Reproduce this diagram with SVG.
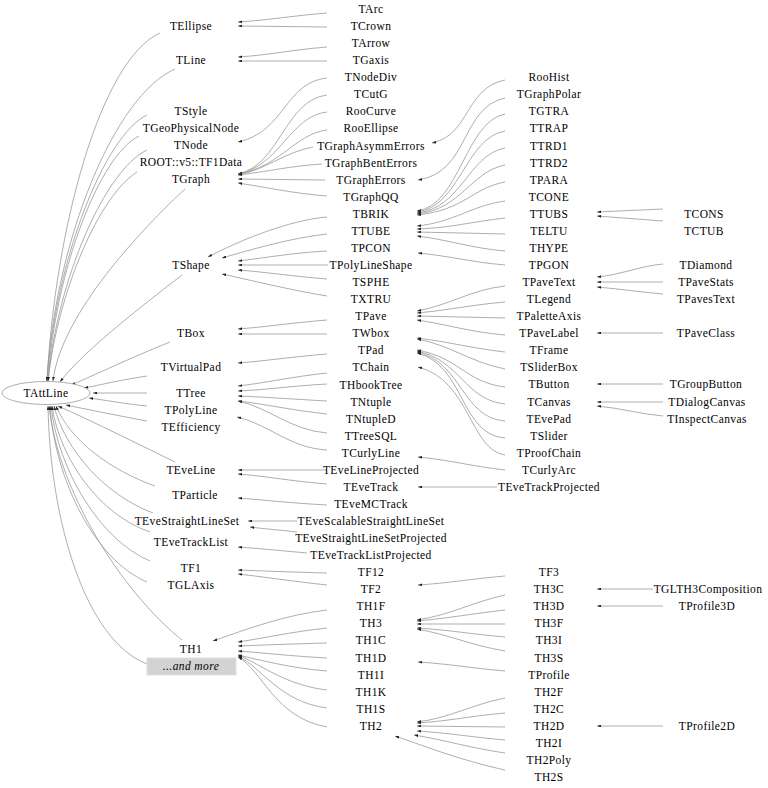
<svg xmlns="http://www.w3.org/2000/svg" width="768" height="788" viewBox="0 0 768 788">
<style>
text{font-family:"Liberation Serif","Times New Roman",serif;font-size:11.5px;letter-spacing:0.4px;text-anchor:middle;fill:#000}
.e path{fill:none;stroke:#999;stroke-width:0.8;marker-end:url(#a)}
.more{fill:#d3d3d3;stroke:#e0e0e0}
.it{font-style:italic}
</style>
<defs>
<marker id="a" viewBox="0 0 6 4" refX="6" refY="2" markerWidth="4.5" markerHeight="2.8" orient="auto" markerUnits="userSpaceOnUse"><path d="M0,0 L6,2 L0,4z" fill="#222"/></marker>
</defs>
<rect width="768" height="788" fill="#fff"/>
<g class="e" id="edges">
<path d="M327,13 C290,16 270,20 238,22"/>
<path d="M327,27 L238,26"/>
<path d="M327,47 C290,50 270,55 238,57"/>
<path d="M327,61 L238,61"/>
<path d="M327,78 C285,82 285,132 238,142"/>
<path d="M327,95 C285,100 280,165 238,174"/>
<path d="M327,112 C290,116 280,166 238,174"/>
<path d="M327,130 C295,134 280,167 238,174"/>
<path d="M313,147 C285,152 265,170 238,175"/>
<path d="M322,164 C290,166 265,172 238,175"/>
<path d="M325,180 L238,179"/>
<path d="M327,196 C290,193 265,187 238,183"/>
<path d="M505,80 C465,88 470,135 432,143"/>
<path d="M505,98 C460,108 470,172 418,180"/>
<path d="M505,114 C465,122 460,205 417,211"/>
<path d="M505,131 C465,138 460,207 417,212"/>
<path d="M505,148 C468,155 462,208 417,213"/>
<path d="M505,165 C470,172 462,209 417,214"/>
<path d="M505,182 C472,188 465,210 417,215"/>
<path d="M505,201 C470,206 455,222 417,226"/>
<path d="M505,218 C470,222 450,228 417,229"/>
<path d="M505,234 L417,232"/>
<path d="M505,251 C470,248 450,240 417,236"/>
<path d="M505,265 C470,262 450,256 418,253"/>
<path d="M663,209 L597,212"/>
<path d="M663,221 L597,216"/>
<path d="M327,217 C290,220 240,240 208,257"/>
<path d="M327,234 C290,238 250,250 222,258"/>
<path d="M327,251 C290,253 265,258 238,261"/>
<path d="M328,265 L238,265"/>
<path d="M327,279 C290,276 265,272 238,270"/>
<path d="M327,296 C290,290 250,280 222,274"/>
<path d="M327,320 C290,323 265,327 238,329"/>
<path d="M327,334 L238,334"/>
<path d="M505,286 C470,290 450,305 417,311"/>
<path d="M505,302 C470,305 450,310 417,313"/>
<path d="M505,318 L417,316"/>
<path d="M505,335 C470,332 450,325 417,320"/>
<path d="M505,352 C470,348 450,342 417,338"/>
<path d="M505,369 C470,362 450,345 417,339"/>
<path d="M505,387 C465,382 460,358 417,350"/>
<path d="M505,404 C465,400 460,360 417,351"/>
<path d="M505,421 C462,418 462,362 417,352"/>
<path d="M505,438 C460,435 465,365 417,353"/>
<path d="M327,354 C290,357 265,361 238,363"/>
<path d="M505,455 C470,450 470,380 418,367"/>
<path d="M663,264 C640,266 620,275 597,277"/>
<path d="M663,282 L597,282"/>
<path d="M663,294 C640,292 620,289 597,287"/>
<path d="M663,333 L597,333"/>
<path d="M663,384 L597,384"/>
<path d="M663,402 L597,402"/>
<path d="M663,416 C640,414 620,408 597,406"/>
<path d="M327,373 C290,377 265,383 238,386"/>
<path d="M327,384 C290,386 265,390 238,391"/>
<path d="M327,401 C290,399 265,397 238,396"/>
<path d="M327,414 C290,410 265,404 238,401"/>
<path d="M327,433 C290,430 270,408 238,401"/>
<path d="M327,450 C290,448 270,425 237,417"/>
<path d="M505,470 C470,466 450,460 418,457"/>
<path d="M327,470 L238,470"/>
<path d="M327,484 C290,481 265,476 238,474"/>
<path d="M497,487 L418,487"/>
<path d="M327,505 C290,503 265,500 238,498"/>
<path d="M297,521 L248,521"/>
<path d="M297,532 C280,530 265,529 250,527"/>
<path d="M307,553 C285,551 265,549 238,547"/>
<path d="M327,573 C290,572 265,571 238,570"/>
<path d="M327,585 C290,581 265,577 238,574"/>
<path d="M505,576 C470,579 450,583 418,585"/>
<path d="M653,589 L597,589"/>
<path d="M663,606 L597,606"/>
<path d="M505,595 C470,603 450,615 417,620"/>
<path d="M505,610 C470,614 450,618 417,621"/>
<path d="M505,624 L417,624"/>
<path d="M505,637 C470,634 450,630 417,628"/>
<path d="M505,651 C470,645 450,635 417,629"/>
<path d="M505,671 C470,668 450,664 418,662"/>
<path d="M505,698 C470,705 450,718 417,722"/>
<path d="M505,713 C470,716 450,721 417,723"/>
<path d="M505,727 L417,726"/>
<path d="M505,740 C470,737 450,733 417,731"/>
<path d="M505,753 C470,748 445,740 414,735"/>
<path d="M505,770 C460,760 430,748 395,736"/>
<path d="M663,726 L597,726"/>
<path d="M327,610 C285,615 250,628 213,641"/>
<path d="M327,628 C290,632 265,638 238,642"/>
<path d="M327,643 C290,644 265,645 238,646"/>
<path d="M327,658 C290,656 265,653 238,651"/>
<path d="M327,671 C290,668 260,660 238,655"/>
<path d="M327,690 C285,685 262,665 238,655"/>
<path d="M327,708 C280,702 262,668 238,656"/>
<path d="M327,727 C275,718 262,670 238,657"/>
<path d="M160,33 C100,60 55,230 47,381"/>
<path d="M175,69 C115,95 55,240 47,381"/>
<path d="M147,115 C105,135 55,260 47,381"/>
<path d="M139,136 C100,155 55,270 48,381"/>
<path d="M147,150 C105,170 57,280 48,381"/>
<path d="M137,172 C100,195 58,290 48,381"/>
<path d="M185,189 C130,240 60,320 53,381"/>
<path d="M182,275 C130,315 80,355 60,382"/>
<path d="M170,342 C130,358 95,375 71,385"/>
<path d="M147,376 C120,380 100,385 84,388"/>
<path d="M147,393 L93,393"/>
<path d="M147,406 C125,404 105,400 89,398"/>
<path d="M147,421 C120,416 90,410 66,405"/>
<path d="M175,462 C140,445 90,420 58,406"/>
<path d="M155,486 C110,470 70,440 56,406"/>
<path d="M153,513 C105,495 65,450 54,406"/>
<path d="M150,532 C100,515 60,460 52,406"/>
<path d="M150,561 C100,540 58,470 51,406"/>
<path d="M147,582 C95,560 55,480 50,406"/>
<path d="M182,640 C120,590 58,490 49,406"/>
<path d="M147,664 C85,640 50,520 48,406"/>
</g>
<g id="n_TAttLine"><ellipse cx="46" cy="393" rx="44" ry="11.5" fill="#fff" stroke="#999" stroke-width="0.8"/><text x="46" y="397">TAttLine</text></g>
<g id="n_TEllipse"><text x="191" y="30">TEllipse</text></g>
<g id="n_TLine"><text x="191" y="64">TLine</text></g>
<g id="n_TStyle"><text x="191" y="115">TStyle</text></g>
<g id="n_TGeoPhysicalNode"><text x="191" y="132">TGeoPhysicalNode</text></g>
<g id="n_TNode"><text x="191" y="149">TNode</text></g>
<g id="n_ROOT_v5_TF1Data"><text x="191" y="166">ROOT::v5::TF1Data</text></g>
<g id="n_TGraph"><text x="191" y="183">TGraph</text></g>
<g id="n_TShape"><text x="191" y="269">TShape</text></g>
<g id="n_TBox"><text x="191" y="337">TBox</text></g>
<g id="n_TVirtualPad"><text x="191" y="371">TVirtualPad</text></g>
<g id="n_TTree"><text x="191" y="397">TTree</text></g>
<g id="n_TPolyLine"><text x="191" y="414">TPolyLine</text></g>
<g id="n_TEfficiency"><text x="191" y="431">TEfficiency</text></g>
<g id="n_TEveLine"><text x="191" y="474">TEveLine</text></g>
<g id="n_TParticle"><text x="195" y="499">TParticle</text></g>
<g id="n_TEveStraightLineSet"><text x="187" y="525">TEveStraightLineSet</text></g>
<g id="n_TEveTrackList"><text x="191" y="546">TEveTrackList</text></g>
<g id="n_TF1"><text x="191" y="572">TF1</text></g>
<g id="n_TGLAxis"><text x="191" y="589">TGLAxis</text></g>
<g id="n_TH1"><text x="191" y="653">TH1</text></g>
<g id="n_more"><rect class="more" x="147" y="658" width="89" height="17"/><text class="it" x="191" y="670">...and more</text></g>
<g id="n_TArc"><text x="371" y="13">TArc</text></g>
<g id="n_TCrown"><text x="371" y="30">TCrown</text></g>
<g id="n_TArrow"><text x="371" y="47">TArrow</text></g>
<g id="n_TGaxis"><text x="371" y="64">TGaxis</text></g>
<g id="n_TNodeDiv"><text x="371" y="81">TNodeDiv</text></g>
<g id="n_TCutG"><text x="371" y="98">TCutG</text></g>
<g id="n_RooCurve"><text x="371" y="115">RooCurve</text></g>
<g id="n_RooEllipse"><text x="371" y="132">RooEllipse</text></g>
<g id="n_TGraphAsymmErrors"><text x="371" y="150">TGraphAsymmErrors</text></g>
<g id="n_TGraphBentErrors"><text x="371" y="167">TGraphBentErrors</text></g>
<g id="n_TGraphErrors"><text x="371" y="184">TGraphErrors</text></g>
<g id="n_TGraphQQ"><text x="371" y="201">TGraphQQ</text></g>
<g id="n_TBRIK"><text x="371" y="218">TBRIK</text></g>
<g id="n_TTUBE"><text x="371" y="235">TTUBE</text></g>
<g id="n_TPCON"><text x="371" y="252">TPCON</text></g>
<g id="n_TPolyLineShape"><text x="371" y="269">TPolyLineShape</text></g>
<g id="n_TSPHE"><text x="371" y="286">TSPHE</text></g>
<g id="n_TXTRU"><text x="371" y="303">TXTRU</text></g>
<g id="n_TPave"><text x="371" y="320">TPave</text></g>
<g id="n_TWbox"><text x="371" y="337">TWbox</text></g>
<g id="n_TPad"><text x="371" y="354">TPad</text></g>
<g id="n_TChain"><text x="371" y="371">TChain</text></g>
<g id="n_THbookTree"><text x="371" y="389">THbookTree</text></g>
<g id="n_TNtuple"><text x="371" y="406">TNtuple</text></g>
<g id="n_TNtupleD"><text x="371" y="423">TNtupleD</text></g>
<g id="n_TTreeSQL"><text x="371" y="440">TTreeSQL</text></g>
<g id="n_TCurlyLine"><text x="371" y="457">TCurlyLine</text></g>
<g id="n_TEveLineProjected"><text x="371" y="474">TEveLineProjected</text></g>
<g id="n_TEveTrack"><text x="371" y="491">TEveTrack</text></g>
<g id="n_TEveMCTrack"><text x="371" y="508">TEveMCTrack</text></g>
<g id="n_TEveScalableStraightLineSet"><text x="371" y="525">TEveScalableStraightLineSet</text></g>
<g id="n_TEveStraightLineSetProjected"><text x="371" y="542">TEveStraightLineSetProjected</text></g>
<g id="n_TEveTrackListProjected"><text x="371" y="559">TEveTrackListProjected</text></g>
<g id="n_TF12"><text x="371" y="576">TF12</text></g>
<g id="n_TF2"><text x="371" y="593">TF2</text></g>
<g id="n_TH1F"><text x="371" y="610">TH1F</text></g>
<g id="n_TH3"><text x="371" y="627">TH3</text></g>
<g id="n_TH1C"><text x="371" y="644">TH1C</text></g>
<g id="n_TH1D"><text x="371" y="662">TH1D</text></g>
<g id="n_TH1I"><text x="371" y="679">TH1I</text></g>
<g id="n_TH1K"><text x="371" y="696">TH1K</text></g>
<g id="n_TH1S"><text x="371" y="713">TH1S</text></g>
<g id="n_TH2"><text x="371" y="730">TH2</text></g>
<g id="n_RooHist"><text x="549" y="81">RooHist</text></g>
<g id="n_TGraphPolar"><text x="549" y="98">TGraphPolar</text></g>
<g id="n_TGTRA"><text x="549" y="115">TGTRA</text></g>
<g id="n_TTRAP"><text x="549" y="132">TTRAP</text></g>
<g id="n_TTRD1"><text x="549" y="150">TTRD1</text></g>
<g id="n_TTRD2"><text x="549" y="167">TTRD2</text></g>
<g id="n_TPARA"><text x="549" y="184">TPARA</text></g>
<g id="n_TCONE"><text x="549" y="201">TCONE</text></g>
<g id="n_TTUBS"><text x="549" y="218">TTUBS</text></g>
<g id="n_TELTU"><text x="549" y="235">TELTU</text></g>
<g id="n_THYPE"><text x="549" y="252">THYPE</text></g>
<g id="n_TPGON"><text x="549" y="269">TPGON</text></g>
<g id="n_TPaveText"><text x="549" y="286">TPaveText</text></g>
<g id="n_TLegend"><text x="549" y="303">TLegend</text></g>
<g id="n_TPaletteAxis"><text x="549" y="320">TPaletteAxis</text></g>
<g id="n_TPaveLabel"><text x="549" y="337">TPaveLabel</text></g>
<g id="n_TFrame"><text x="549" y="354">TFrame</text></g>
<g id="n_TSliderBox"><text x="549" y="371">TSliderBox</text></g>
<g id="n_TButton"><text x="549" y="388">TButton</text></g>
<g id="n_TCanvas"><text x="549" y="406">TCanvas</text></g>
<g id="n_TEvePad"><text x="549" y="423">TEvePad</text></g>
<g id="n_TSlider"><text x="549" y="440">TSlider</text></g>
<g id="n_TProofChain"><text x="549" y="457">TProofChain</text></g>
<g id="n_TCurlyArc"><text x="549" y="474">TCurlyArc</text></g>
<g id="n_TEveTrackProjected"><text x="549" y="491">TEveTrackProjected</text></g>
<g id="n_TF3"><text x="549" y="576">TF3</text></g>
<g id="n_TH3C"><text x="549" y="593">TH3C</text></g>
<g id="n_TH3D"><text x="549" y="610">TH3D</text></g>
<g id="n_TH3F"><text x="549" y="627">TH3F</text></g>
<g id="n_TH3I"><text x="549" y="644">TH3I</text></g>
<g id="n_TH3S"><text x="549" y="662">TH3S</text></g>
<g id="n_TProfile"><text x="549" y="679">TProfile</text></g>
<g id="n_TH2F"><text x="549" y="696">TH2F</text></g>
<g id="n_TH2C"><text x="549" y="713">TH2C</text></g>
<g id="n_TH2D"><text x="549" y="730">TH2D</text></g>
<g id="n_TH2I"><text x="549" y="747">TH2I</text></g>
<g id="n_TH2Poly"><text x="549" y="764">TH2Poly</text></g>
<g id="n_TH2S"><text x="549" y="781">TH2S</text></g>
<g id="n_TCONS"><text x="704" y="218">TCONS</text></g>
<g id="n_TCTUB"><text x="704" y="235">TCTUB</text></g>
<g id="n_TDiamond"><text x="706" y="269">TDiamond</text></g>
<g id="n_TPaveStats"><text x="706" y="286">TPaveStats</text></g>
<g id="n_TPavesText"><text x="706" y="303">TPavesText</text></g>
<g id="n_TPaveClass"><text x="706" y="337">TPaveClass</text></g>
<g id="n_TGroupButton"><text x="706" y="388">TGroupButton</text></g>
<g id="n_TDialogCanvas"><text x="707" y="406">TDialogCanvas</text></g>
<g id="n_TInspectCanvas"><text x="707" y="423">TInspectCanvas</text></g>
<g id="n_TGLTH3Composition"><text x="708" y="593">TGLTH3Composition</text></g>
<g id="n_TProfile3D"><text x="707" y="610">TProfile3D</text></g>
<g id="n_TProfile2D"><text x="707" y="730">TProfile2D</text></g>
</svg>
